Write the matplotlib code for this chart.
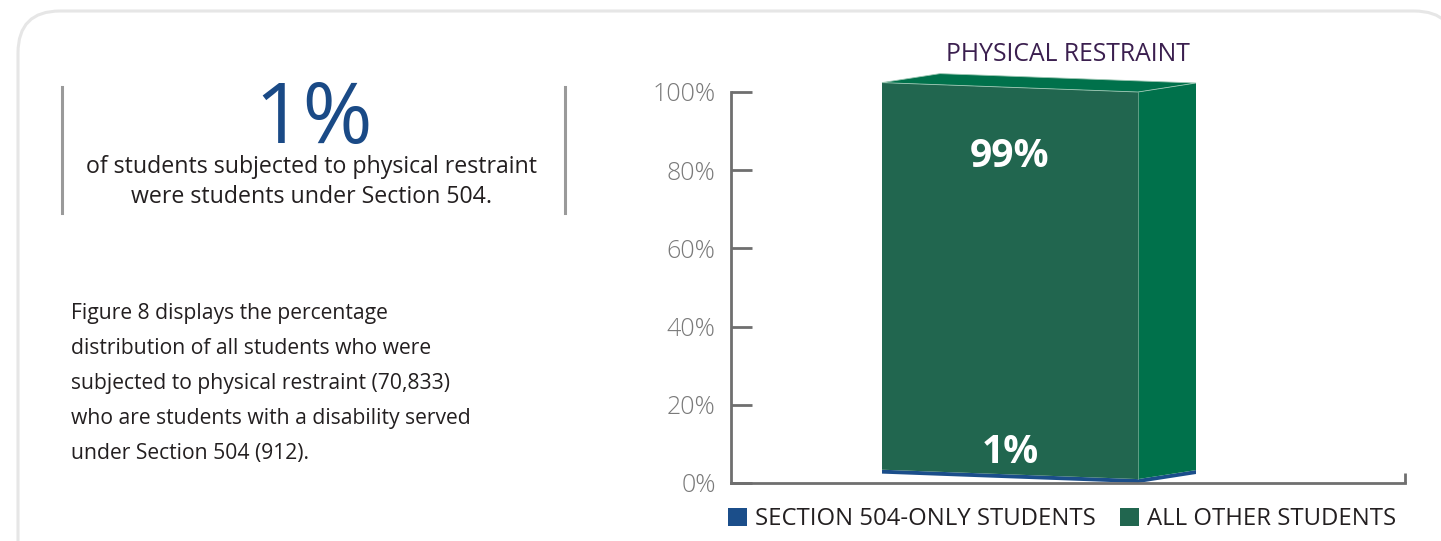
import matplotlib.pyplot as plt
import numpy as np
from matplotlib.patches import Polygon, Patch, FancyBboxPatch

plt.rcParams['font.family'] = ['Open Sans', 'DejaVu Sans']

# data
series = ['SECTION 504-ONLY STUDENTS', 'ALL OTHER STUDENTS']
values = [1, 99]
labels = ['1%', '99%']
front_colors = ['#1b4e8a', '#21664f']
side_colors = ['#1b4e8a', '#00714b']
yticks = [0, 20, 40, 60, 80, 100]
title = 'PHYSICAL RESTRAINT'
big_stat = '1%'
stat_lines = ['of students subjected to physical restraint',
              'were students under Section 504.']
para_lines = ['Figure 8 displays the percentage',
              'distribution of all students who were',
              'subjected to physical restraint (70,833)',
              'who are students with a disability served',
              'under Section 504 (912).']

W, H = 1441, 541
fig = plt.figure(figsize=(W / 100, H / 100), dpi=100)

def fx(x):
    return x / W

def fy(y):
    return 1 - y / H

# background layer in pixel units for the card outline
bg = fig.add_axes([0, 0, 1, 1])
bg.set_xlim(0, W)
bg.set_ylim(H, 0)
bg.axis('off')
bg.add_patch(FancyBboxPatch((18, 11), 1438, 700,
                            boxstyle='round,pad=0,rounding_size=42',
                            fc='none', ec='#e6e6e6', lw=2.2))

# left side text
for x in (62, 565):
    bg.plot([x, x], [87, 213], color='#9a9a9a', lw=2.2)
fig.text(fx(314), fy(143), big_stat, ha='center', va='baseline',
         fontsize=61, color='#1a4a86')
for i, line in enumerate(stat_lines):
    fig.text(fx(312), fy(167 + 30 * i), line, ha='center', va='center',
             fontsize=16.7, color='#231f20')
for i, line in enumerate(para_lines):
    fig.text(fx(71), fy(314 + 34.8 * i), line, ha='left', va='center',
             fontsize=15.2, color='#231f20')

# chart axes
ax_l, ax_r, ax_b, ax_t = 731, 1405, 483, 92
ax = fig.add_axes([fx(ax_l), fy(ax_b), fx(ax_r - ax_l), fy(ax_t) - fy(ax_b)])
ax.set_xlim(0, ax_r - ax_l)
ax.set_ylim(0, 100)
for s in ('top', 'right'):
    ax.spines[s].set_visible(False)
for s in ('left', 'bottom'):
    ax.spines[s].set_color('#6f6f6f')
    ax.spines[s].set_linewidth(2)
ax.set_yticks(yticks)
ax.set_yticklabels([f'{t}%' for t in yticks], fontweight='light')
ax.tick_params(axis='y', direction='in', length=15, width=2, color='#6f6f6f',
               pad=11, labelsize=18, labelcolor='#7a7a7a')
ax.set_xticks([ax_r - ax_l])
ax.set_xticklabels([''])
ax.tick_params(axis='x', direction='in', length=7, width=2, color='#6f6f6f')
ax.patch.set_alpha(0)

ax.set_title(title, color='#3b1f4f', fontsize=17.8, pad=22)

# pseudo-3D stacked bar
x_left, width, depth_x = 151, 256, 58
skew, depth_y = 2.4, 2.3

def vert(u, d, v):
    return (x_left + u * width + d * depth_x, v + (1 - u) * skew + d * depth_y)

bottom = 0
for val, fc, sc in zip(values, front_colors, side_colors):
    top = bottom + val
    front = [vert(0, 0, bottom), vert(1, 0, bottom), vert(1, 0, top), vert(0, 0, top)]
    side = [vert(1, 0, bottom), vert(1, 1, bottom), vert(1, 1, top), vert(1, 0, top)]
    ax.add_patch(Polygon(front, closed=True, fc=fc, ec='none', clip_on=False))
    ax.add_patch(Polygon(side, closed=True, fc=sc, ec='none', clip_on=False))
    bottom = top
cap = [vert(0, 0, bottom), vert(1, 0, bottom), vert(1, 1, bottom), vert(0, 1, bottom)]
ax.add_patch(Polygon(cap, closed=True, fc=side_colors[-1], ec='#9cc7b3',
                     lw=0.6, clip_on=False))
ax.plot([vert(1, 0, 1)[0], vert(1, 0, bottom)[0]],
        [vert(1, 0, 1)[1], vert(1, 0, bottom)[1]], color='#6fa58e', lw=0.6,
        clip_on=False)

# value labels
cx = x_left + width / 2
ax.text(cx, 83.5, labels[1], ha='center', va='center', color='white',
        fontsize=28, fontweight='bold')
ax.text(cx, 7.7, labels[0], ha='center', va='center', color='white',
        fontsize=28, fontweight='bold')

handles = [Patch(fc=c, ec='none') for c in front_colors]
fig.legend(handles, series, loc='center', bbox_to_anchor=(fx(1062), fy(519)),
           ncol=2, frameon=False, fontsize=17.2, handlelength=0.8,
           handleheight=0.8, handletextpad=0.35, columnspacing=1.0,
           labelcolor='#231f20', borderpad=0)

fig.savefig('out.png', dpi=100)
